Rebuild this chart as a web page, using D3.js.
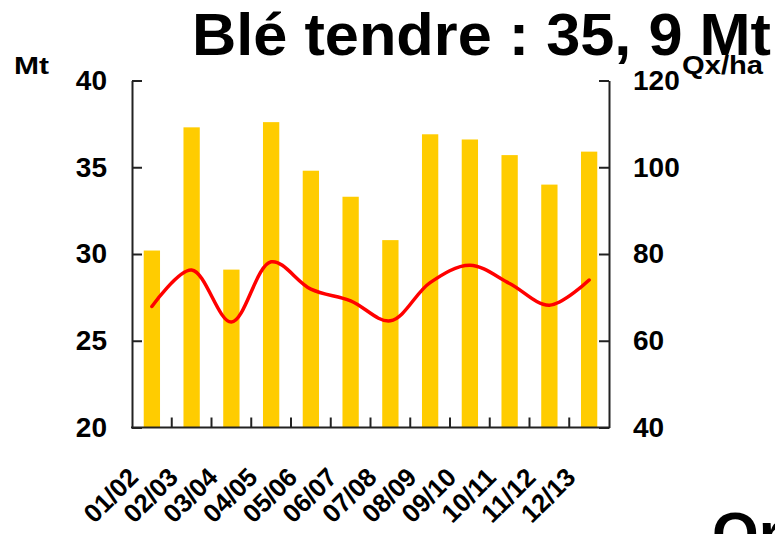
<!DOCTYPE html>
<html>
<head>
<meta charset="utf-8">
<script src="https://cdn.jsdelivr.net/npm/d3@7"></script>
<style>
  html, body { margin: 0; padding: 0; background: #fff; }
  svg { display: block; }
  text { font-family: "Liberation Sans", Arial, sans-serif; font-weight: bold; fill: #000; }
</style>
</head>
<body>
<svg id="chart" width="775" height="534"></svg>
<script>
// Campagnes (années de récolte)
const campagnes = ["01/02","02/03","03/04","04/05","05/06","06/07","07/08","08/09","09/10","10/11","11/12","12/13"];
// Production de blé tendre (Mt)
const production = [30.2, 37.3, 29.1, 37.6, 34.8, 33.3, 30.8, 36.9, 36.6, 35.7, 34.0, 35.9];
// Rendement (quintaux/ha)
const rendement = [67.9, 76.3, 64.3, 78.2, 71.9, 69.2, 64.6, 73.4, 77.4, 73.2, 68.2, 74.0];
// Graduations
const ticksMt = [20, 25, 30, 35, 40];
const ticksQx = [40, 60, 80, 100, 120];

const svg = d3.select("#chart");
const plotLeft = 132, plotRight = 609, plotTop = 80.5, plotBottom = 427.5;

const x = d3.scaleBand().domain(campagnes).range([plotLeft, plotRight])
  .paddingInner(0.59).paddingOuter(0.295);
const yL = d3.scaleLinear().domain([20, 40]).range([plotBottom, plotTop]);
const yR = d3.scaleLinear().domain([40, 120]).range([plotBottom, plotTop]);

// Titre
svg.append("text")
  .attr("x", 192).attr("y", 55)
  .attr("font-size", 60)
  .attr("textLength", 579).attr("lengthAdjust", "spacingAndGlyphs")
  .text("Blé tendre : 35, 9 Mt");

// Texte de la diapositive suivante, coupé en bas
svg.append("text")
  .attr("x", 712).attr("y", 554)
  .attr("font-size", 60)
  .text("Or");

// Barres de production
svg.append("g").selectAll("rect")
  .data(production)
  .join("rect")
  .attr("x", (d, i) => x(campagnes[i]))
  .attr("y", d => yL(d))
  .attr("width", x.bandwidth())
  .attr("height", d => yL(20) - yL(d))
  .attr("fill", "#ffcc00");

// Courbe lissée du rendement
const line = d3.line()
  .x((d, i) => x(campagnes[i]) + x.bandwidth() / 2)
  .y(d => yR(d))
  .curve(d3.curveCatmullRom.alpha(0.5));
svg.append("path")
  .datum(rendement)
  .attr("d", line)
  .attr("fill", "none")
  .attr("stroke", "#ff0000")
  .attr("stroke-width", 3.5)
  .attr("stroke-linejoin", "round")
  .attr("stroke-linecap", "round");

// Axe gauche (Mt)
const axL = svg.append("g")
  .attr("transform", `translate(${plotLeft},0)`)
  .call(d3.axisLeft(yL).tickValues(ticksMt).tickSize(-10).tickSizeOuter(0).tickPadding(25));
// Axe droit (Qx/ha)
const axR = svg.append("g")
  .attr("transform", `translate(${plotRight},0)`)
  .call(d3.axisRight(yR).tickValues(ticksQx).tickSize(-10).tickSizeOuter(0).tickPadding(24));

[axL, axR].forEach(g => {
  g.selectAll("path.domain").attr("stroke", "#222").attr("stroke-width", 2);
  g.selectAll(".tick line").attr("stroke", "#222").attr("stroke-width", 2);
  g.selectAll(".tick text")
    .attr("font-family", "Liberation Sans, Arial, sans-serif")
    .attr("font-weight", "bold")
    .attr("font-size", 28)
    .attr("fill", "#000");
});

// Axe des abscisses
const axB = svg.append("g");
axB.append("line")
  .attr("x1", plotLeft - 1).attr("x2", plotRight + 1)
  .attr("y1", plotBottom).attr("y2", plotBottom)
  .attr("stroke", "#222").attr("stroke-width", 2);
axB.selectAll("line.sep")
  .data(campagnes.slice(1))
  .join("line")
  .attr("class", "sep")
  .attr("x1", d => x(d) - x.step() * x.paddingInner() / 2)
  .attr("x2", d => x(d) - x.step() * x.paddingInner() / 2)
  .attr("y1", plotBottom).attr("y2", plotBottom - 10)
  .attr("stroke", "#222").attr("stroke-width", 2);

axB.selectAll("text")
  .data(campagnes)
  .join("text")
  .attr("font-size", 26)
  .attr("textLength", 64).attr("lengthAdjust", "spacingAndGlyphs")
  .attr("text-anchor", "end")
  .attr("transform", d => `translate(${x(d) + x.bandwidth() / 2 - 12},479) rotate(-45)`)
  .text(d => d);

// Unités
svg.append("text")
  .attr("x", 14).attr("y", 74)
  .attr("font-size", 24)
  .attr("textLength", 35).attr("lengthAdjust", "spacingAndGlyphs")
  .text("Mt");
svg.append("text")
  .attr("x", 682).attr("y", 74)
  .attr("font-size", 26)
  .attr("textLength", 81).attr("lengthAdjust", "spacingAndGlyphs")
  .text("Qx/ha");
</script>
</body>
</html>
